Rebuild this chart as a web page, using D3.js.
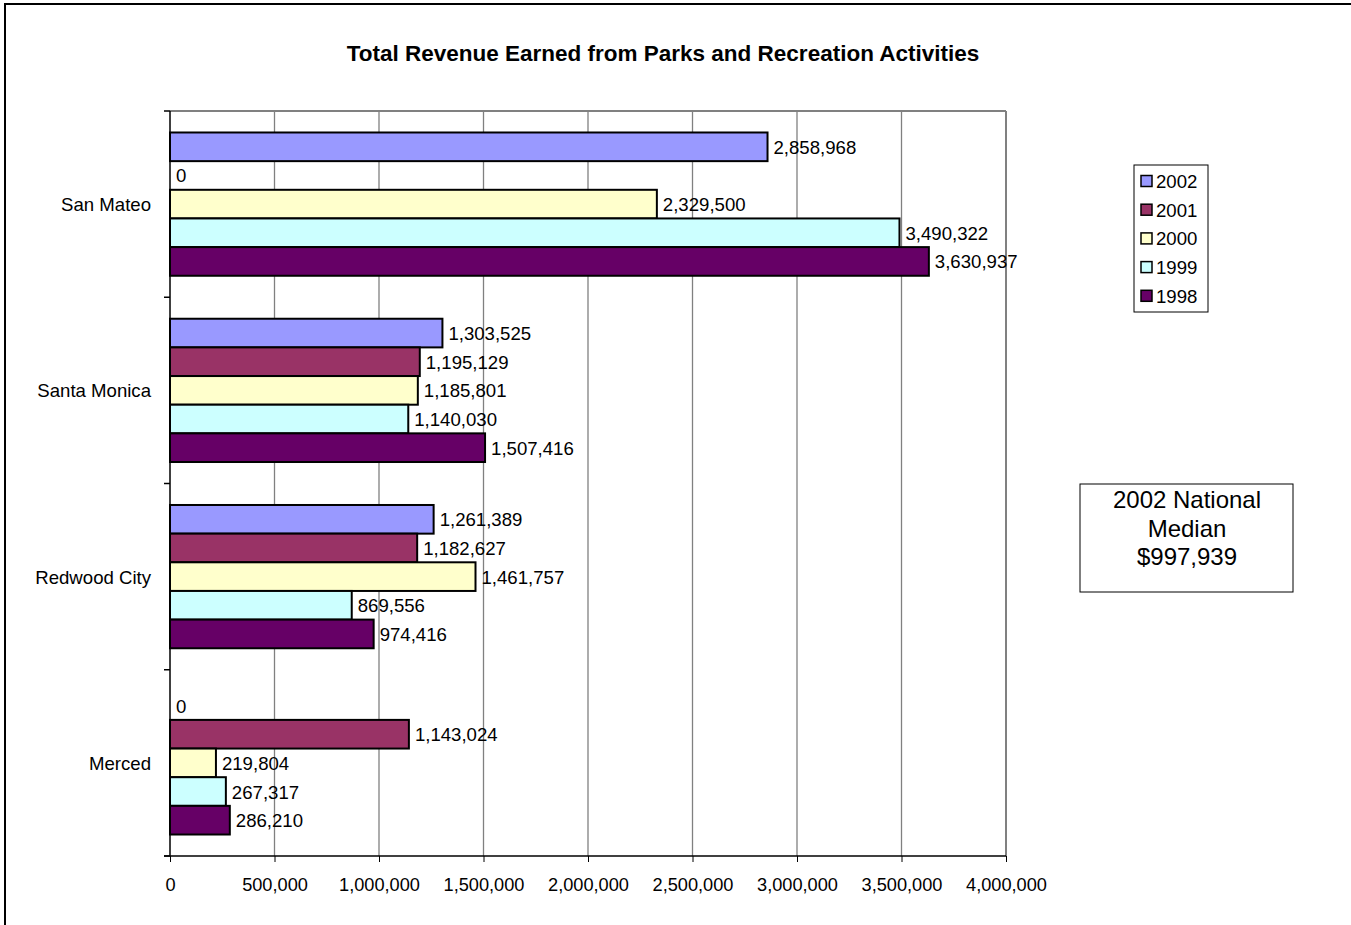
<!DOCTYPE html>
<html>
<head>
<meta charset="utf-8">
<script src="https://cdn.jsdelivr.net/npm/d3@7"></script>
<style>
  html, body { margin: 0; padding: 0; background: #fff; }
  svg { display: block; font-family: Arial, "Liberation Sans", sans-serif; }
</style>
</head>
<body>
<svg id="chart" width="1351" height="925"></svg>
<script>
// Cities (top to bottom) and yearly revenue series
const cities = ["San Mateo", "Santa Monica", "Redwood City", "Merced"];
const years = ["2002", "2001", "2000", "1999", "1998"];
const rev2002 = [2858968, 1303525, 1261389, 0];
const rev2001 = [0, 1195129, 1182627, 1143024];
const rev2000 = [2329500, 1185801, 1461757, 219804];
const rev1999 = [3490322, 1140030, 869556, 267317];
const rev1998 = [3630937, 1507416, 974416, 286210];
const seriesColors = ["#9999FF", "#993366", "#FFFFCC", "#CCFFFF", "#660066"];
const xTicks = [0, 500000, 1000000, 1500000, 2000000, 2500000, 3000000, 3500000, 4000000];
const titleText = "Total Revenue Earned from Parks and Recreation Activities";
const medianLines = ["2002 National", "Median", "$997,939"];

const seriesValues = [rev2002, rev2001, rev2000, rev1999, rev1998];
const fmt = d3.format(",");
const labelSize = 18.6;

const svg = d3.select("#chart");

// Outer chart frame
svg.append("rect")
  .attr("x", 5).attr("y", 4).attr("width", 1360).attr("height", 940)
  .attr("fill", "#fff").attr("stroke", "#000").attr("stroke-width", 2);

const plot = { left: 170, top: 111, right: 1006, bottom: 856 };

const x = d3.scaleLinear().domain([0, 4000000]).range([plot.left, plot.right]);
const y0 = d3.scaleBand().domain(cities).range([plot.top, plot.bottom]).paddingInner(0).paddingOuter(0);
const bandH = y0.bandwidth();
const barH = bandH / 6.5;
const groupPad = (bandH - 5 * barH) / 2;
const y1 = d3.scaleBand().domain(years).range([groupPad, groupPad + 5 * barH]).padding(0);

// Title
svg.append("text")
  .attr("x", 663).attr("y", 61)
  .attr("text-anchor", "middle")
  .attr("font-size", 22.5).attr("font-weight", "bold")
  .text(titleText);

// Vertical gridlines
svg.append("g").selectAll("line")
  .data(xTicks.slice(1))
  .join("line")
  .attr("x1", d => x(d)).attr("x2", d => x(d))
  .attr("y1", plot.top).attr("y2", plot.bottom)
  .attr("stroke", "#808080").attr("stroke-width", 1.3);

// Plot area top and right border
svg.append("line")
  .attr("x1", plot.left).attr("x2", plot.right)
  .attr("y1", plot.top).attr("y2", plot.top)
  .attr("stroke", "#808080").attr("stroke-width", 2);
svg.append("line")
  .attr("x1", plot.right).attr("x2", plot.right)
  .attr("y1", plot.top).attr("y2", plot.bottom)
  .attr("stroke", "#808080").attr("stroke-width", 2);

// Bars
const rows = [];
cities.forEach((c, ci) => {
  years.forEach((yr, si) => {
    rows.push({ city: c, year: yr, si, value: seriesValues[si][ci] });
  });
});

svg.append("g").selectAll("rect")
  .data(rows.filter(d => d.value > 0))
  .join("rect")
  .attr("x", x(0))
  .attr("y", d => y0(d.city) + y1(d.year))
  .attr("width", d => x(d.value) - x(0))
  .attr("height", barH)
  .attr("fill", d => seriesColors[d.si])
  .attr("stroke", "#000").attr("stroke-width", 2);

// Value labels
svg.append("g").selectAll("text")
  .data(rows)
  .join("text")
  .attr("x", d => x(d.value) + 6)
  .attr("y", d => y0(d.city) + y1(d.year) + barH / 2 + 7)
  .attr("font-size", labelSize)
  .text(d => fmt(d.value));

// X axis
const xAxis = svg.append("g")
  .attr("transform", `translate(0,${plot.bottom})`)
  .call(d3.axisBottom(x).tickValues(xTicks).tickFormat(fmt).tickSize(6).tickSizeOuter(0));
xAxis.select(".domain").attr("stroke", "#000").attr("stroke-width", 1.5)
  .attr("d", `M${plot.left - 6},0H${plot.right}`);
xAxis.selectAll(".tick line").attr("stroke", "#000");
xAxis.selectAll(".tick text")
  .attr("font-size", 18.2).attr("font-family", "Arial, 'Liberation Sans', sans-serif")
  .attr("fill", "#000").attr("y", 22).attr("dy", "0.71em");

// Y axis: line, ticks at category boundaries, labels
svg.append("line")
  .attr("x1", plot.left).attr("x2", plot.left)
  .attr("y1", plot.top).attr("y2", plot.bottom)
  .attr("stroke", "#000").attr("stroke-width", 1.5);
const bounds = cities.map(c => y0(c)).concat([plot.bottom]);
svg.append("g").selectAll("line")
  .data(bounds)
  .join("line")
  .attr("x1", plot.left - 6).attr("x2", plot.left)
  .attr("y1", d => d).attr("y2", d => d)
  .attr("stroke", "#000").attr("stroke-width", 1.5);
svg.append("g").selectAll("text")
  .data(cities)
  .join("text")
  .attr("x", 151)
  .attr("y", d => y0(d) + bandH / 2 + 7)
  .attr("text-anchor", "end")
  .attr("font-size", labelSize)
  .text(d => d);

// Legend
const legend = svg.append("g");
legend.append("rect")
  .attr("x", 1134).attr("y", 165).attr("width", 74).attr("height", 147)
  .attr("fill", "#fff").attr("stroke", "#000").attr("stroke-width", 1);
years.forEach((yr, i) => {
  const cy = 181 + i * 28.7;
  legend.append("rect")
    .attr("x", 1141).attr("y", cy - 5.5).attr("width", 11).attr("height", 11)
    .attr("fill", seriesColors[i]).attr("stroke", "#000").attr("stroke-width", 1.5);
  legend.append("text")
    .attr("x", 1156).attr("y", cy + 7)
    .attr("font-size", labelSize)
    .text(yr);
});

// National median note
const note = svg.append("g");
note.append("rect")
  .attr("x", 1080).attr("y", 484).attr("width", 213).attr("height", 108)
  .attr("fill", "#fff").attr("stroke", "#000").attr("stroke-width", 1);
note.selectAll("text")
  .data(medianLines)
  .join("text")
  .attr("x", 1187)
  .attr("y", (d, i) => 508 + i * 28.7)
  .attr("text-anchor", "middle")
  .attr("font-size", 24)
  .text(d => d);
</script>
</body>
</html>
